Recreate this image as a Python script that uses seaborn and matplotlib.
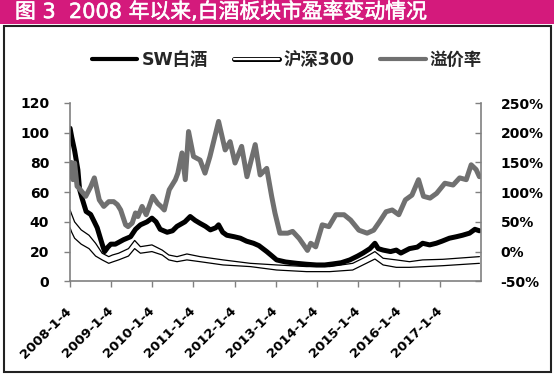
import matplotlib.pyplot as plt
import matplotlib.patheffects as pe
import pandas as pd
import seaborn as sns
from matplotlib.lines import Line2D
from matplotlib.patches import Rectangle
from matplotlib.ticker import FuncFormatter

sns.set_theme(style="white")
plt.rcParams['font.family'] = ['DejaVu Sans', 'Noto Sans CJK SC']

title = '图 3  2008 年以来,白酒板块市盈率变动情况'
labels = ['SW白酒', '沪深300', '溢价率']
tick_years = list(range(2008, 2018))

# times are in years (2008.5 = mid 2008)
sw_t = [2008.01, 2008.05, 2008.12, 2008.20, 2008.24, 2008.30, 2008.40, 2008.51, 2008.60,
        2008.67, 2008.79, 2008.85, 2008.93, 2009.00, 2009.11, 2009.31, 2009.48, 2009.60,
        2009.72, 2009.88, 2010.00, 2010.10, 2010.20, 2010.37, 2010.50, 2010.61, 2010.80,
        2010.93, 2011.05, 2011.17, 2011.30, 2011.42, 2011.55, 2011.62, 2011.72, 2011.82,
        2012.00, 2012.15, 2012.30, 2012.47, 2012.60, 2012.79, 2012.92, 2013.03, 2013.25,
        2013.52, 2013.75, 2014.00, 2014.20, 2014.40, 2014.60, 2014.81, 2015.00, 2015.13,
        2015.30, 2015.42, 2015.50, 2015.62, 2015.80, 2015.94, 2016.05, 2016.26, 2016.45,
        2016.58, 2016.75, 2016.91, 2017.05, 2017.23, 2017.40, 2017.55, 2017.72, 2017.85,
        2017.96]
sw_pe = [103, 97, 88, 75, 62, 56, 47, 45, 40, 36, 25, 20, 23,
         25, 25, 28, 30, 35, 38, 40,
         42.5, 40, 35, 33, 34, 37, 40, 43.6,
         41, 39, 37, 34.6, 36, 38, 33, 31,
         30, 29, 27, 25.6, 24, 20, 17,
         14.4, 13, 12.1, 11.5,
         11, 11, 11.7, 12.5, 14.4,
         17, 19, 22, 25.6, 22, 21, 20, 21,
         19, 22, 23, 25.6, 24.5, 25.6,
         27, 29, 30, 31, 32.4, 35, 34]

hs_t = [2008.01, 2008.05, 2008.12, 2008.28, 2008.47, 2008.63, 2008.79, 2008.95, 2009.04,
        2009.19, 2009.43, 2009.58, 2009.72, 2010.00, 2010.25, 2010.41, 2010.61, 2010.85,
        2011.17, 2011.73, 2012.39, 2013.03, 2013.76, 2014.32, 2014.88, 2015.21, 2015.42,
        2015.62, 2015.94, 2016.26, 2016.58, 2017.07, 2017.96]
hs_upper = [48, 45, 40, 34.6, 31, 25.6, 18.9, 16.6, 17.7, 18.9, 22, 27.5, 23.3, 24.5, 21,
            17.7, 16.6, 18.4, 16.6, 14.4, 12.1, 11, 9.9, 9.9, 12.1, 16.6, 20, 15.5, 14.4,
            13.2, 14.4, 14.8, 16.6]
hs_lower = [36, 33, 29, 25, 22, 17, 14.4, 12.1, 13, 14.4, 17, 22, 18.9, 20, 17.7, 14.4,
            13.2, 14.4, 13.2, 11, 9.9, 7.6, 6.5, 6.5, 7.6, 12.1, 15, 11, 9.4, 9.4, 9.8,
            10.5, 12.1]

prem_t = [2008.01, 2008.04, 2008.08, 2008.12, 2008.18, 2008.26, 2008.39, 2008.51, 2008.60,
          2008.72, 2008.83, 2008.95, 2009.07, 2009.16, 2009.24, 2009.36, 2009.42, 2009.52,
          2009.60, 2009.66, 2009.76, 2009.86, 2010.02, 2010.14, 2010.22, 2010.30, 2010.42,
          2010.57, 2010.63, 2010.73, 2010.81, 2010.89, 2011.01, 2011.17, 2011.29, 2011.41,
          2011.62, 2011.78, 2011.90, 2012.02, 2012.18, 2012.31, 2012.51, 2012.63, 2012.79,
          2012.91, 2012.99, 2013.11, 2013.30, 2013.42, 2013.58, 2013.78, 2013.86, 2013.98,
          2014.14, 2014.30, 2014.47, 2014.67, 2014.83, 2015.03, 2015.23, 2015.39, 2015.53,
          2015.69, 2015.84, 2016.00, 2016.16, 2016.32, 2016.48, 2016.60, 2016.76, 2016.92,
          2017.12, 2017.32, 2017.48, 2017.64, 2017.76, 2017.88, 2017.96]
prem_pct = [135, 150, 121, 149, 110, 104, 93, 109, 124, 87, 76, 84,
            84, 79, 70, 45, 42, 48, 65, 59, 76, 62,
            93, 81, 76, 70, 104, 121, 132, 166, 121, 202,
            160, 154, 132, 160, 219, 171, 185,
            149, 177, 126, 180, 129, 140, 93, 65,
            31, 31, 34, 22, 2, 14, 8,
            45, 42, 62, 62, 53,
            36, 31, 36, 50, 67, 70,
            62, 87, 95, 121, 93, 90, 98,
            115, 112, 124, 121, 146, 138, 126]


def to_dates(years):
    start = pd.Timestamp('2008-01-01')
    return [start + pd.Timedelta(days=(y - 2008) * 365.25) for y in years]


W, H = 554, 374
fig = plt.figure(figsize=(W / 100, H / 100), dpi=100)
fig.patch.set_facecolor('white')

# title band and frame
fig.add_artist(Rectangle((0, 1 - 24 / H), 1, 24 / H, transform=fig.transFigure,
                         facecolor='#d41a7c', edgecolor='none', zorder=0))
fig.text(15 / W, 1 - 12 / H, title, color='white', fontsize=15, ha='left', va='center',
         path_effects=[pe.withStroke(linewidth=0.4, foreground='white')])
fig.add_artist(Rectangle((4 / W, 2 / H), 547 / W, 346 / H, transform=fig.transFigure,
                         fill=False, edgecolor='#222222', linewidth=1.5))

ax = fig.add_axes([70 / W, (H - 281.3) / H, 411 / W, 178.3 / H])
ax2 = ax.twinx()

sns.lineplot(x=to_dates(hs_t), y=hs_upper, ax=ax, color='black', linewidth=0.9)
sns.lineplot(x=to_dates(hs_t), y=hs_lower, ax=ax, color='black', linewidth=0.9)
sns.lineplot(x=to_dates(sw_t), y=sw_pe, ax=ax, color='black', linewidth=3.6)
sns.lineplot(x=to_dates(prem_t), y=prem_pct, ax=ax2, color='#707070', linewidth=3.6)

ax.set_xlim(pd.Timestamp('2008-01-04'), pd.Timestamp('2017-12-31'))
ax.set_ylim(0, 120)
ax.set_yticks(range(0, 121, 20))
ax2.set_ylim(-50, 250)
ax2.set_yticks(range(-50, 251, 50))
ax2.yaxis.set_major_formatter(FuncFormatter(lambda v, p: f'{v:.0f}%'))

axis_grey = '#808080'
for a in (ax, ax2):
    a.set_xlabel('')
    a.set_ylabel('')
    a.grid(False)
    for s in a.spines.values():
        s.set_visible(False)
ax.patch.set_alpha(0)
ax.spines['left'].set_visible(True)
ax.spines['bottom'].set_visible(True)
ax2.spines['right'].set_visible(True)
for s in (ax.spines['left'], ax.spines['bottom'], ax2.spines['right']):
    s.set_color(axis_grey)
    s.set_linewidth(1.2)

ax.tick_params(axis='y', left=True, direction='out', length=4, width=1,
               color=axis_grey, pad=11, labelsize=10, labelcolor='black')
ax.tick_params(axis='x', bottom=True, direction='out', length=4, width=1,
               color=axis_grey, pad=16, labelsize=9.5, labelcolor='black')
ax2.tick_params(axis='y', right=True, direction='in', length=4, width=1,
                color=axis_grey, pad=14, labelsize=10, labelcolor='black')

ax.set_xticks([pd.Timestamp(f'{y}-01-04') for y in tick_years])
ax.set_xticklabels([f'{y}-1-4' for y in tick_years], rotation=45, ha='right',
                   va='center', rotation_mode='anchor', fontweight='bold')
for lbl in ax.get_yticklabels() + ax2.get_yticklabels():
    lbl.set_fontweight('bold')

handles = [
    Line2D([], [], color='black', linewidth=3),
    Line2D([], [], color='white', linewidth=1.6,
           path_effects=[pe.Stroke(linewidth=3.6, foreground='black'), pe.Normal()]),
    Line2D([], [], color='#707070', linewidth=3),
]
fig.legend(handles, labels, loc='center', bbox_to_anchor=(0.518, 1 - 60 / H),
           bbox_transform=fig.transFigure, ncol=3, frameon=False,
           prop={'size': 12.5, 'weight': 'bold'},
           handlelength=2.6, handletextpad=0.25, columnspacing=1.5)

fig.savefig('out.png', dpi=100)
